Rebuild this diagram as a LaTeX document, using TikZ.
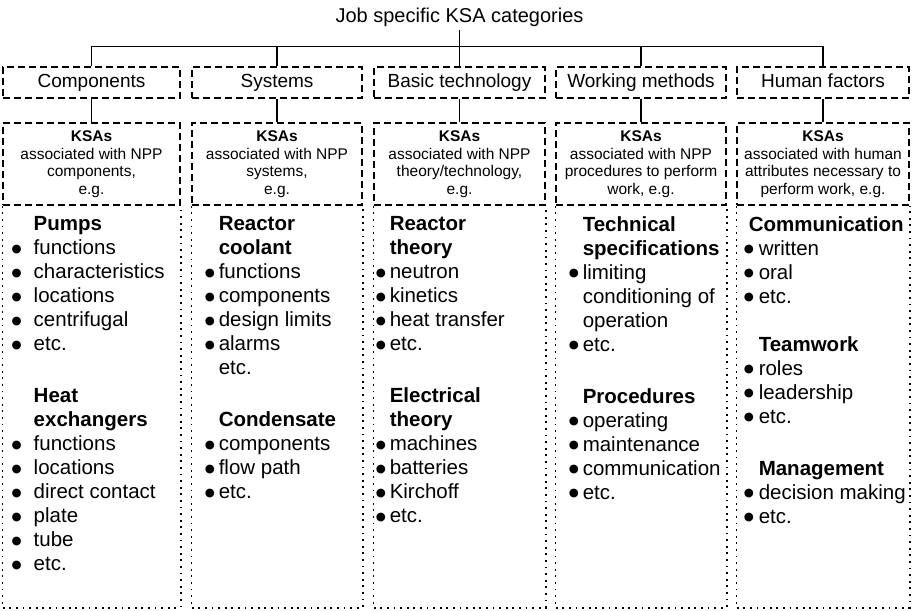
\documentclass[tikz,border=0pt]{standalone}
\usepackage{fontspec}
\setmainfont{Liberation Sans}
\newfontfamily\symfont{DejaVu Sans}
\def\bgap{13pt}
\newcommand\bul{\makebox[\bgap][l]{\raisebox{2.8pt}{\fontsize{11.5}{12}\symfont ●}}}
\newcommand\ind{\hspace*{\bgap}}
\begin{document}
\begin{tikzpicture}[x=1pt, y=-1pt, line width=1.5pt,
  cat/.style={draw, dash pattern=on 7pt off 4pt, minimum height=31pt, inner sep=0pt, text height=14pt, text depth=4pt, font=\fontsize{19}{22}\selectfont},
  desc/.style={draw, dash pattern=on 7pt off 4pt, minimum height=82pt, inner sep=0pt, align=center, font=\fontsize{15.5}{17.5}\selectfont},
  items/.style={anchor=north west, align=left, inner sep=0pt, font=\fontsize{20.5}{24}\selectfont},
  dots/.style={dash pattern=on 1.8pt off 4.8pt}]
  \useasboundingbox (0,0) rectangle (914,611);
  \node[font=\fontsize{20}{24}\selectfont] (title) at (459.5,17) {Job specific KSA categories};
  \node[cat, minimum width=177pt] (cp) at (91.5,82.5) {Components};
  \node[cat, minimum width=170pt] (sy) at (277,82.5) {Systems};
  \node[cat, minimum width=171pt] (bt) at (459.5,82.5) {Basic technology};
  \node[cat, minimum width=170pt] (wm) at (641,82.5) {Working methods};
  \node[cat, minimum width=172pt] (hf) at (823,82.5) {Human factors};
  \node[desc, minimum width=177pt] (d-cp) at (91.5,164) {\textbf{KSAs}\\associated with NPP\\components,\\e.g.};
  \node[desc, minimum width=170pt] (d-sy) at (277,164) {\textbf{KSAs}\\associated with NPP\\systems,\\e.g.};
  \node[desc, minimum width=171pt] (d-bt) at (459.5,164) {\textbf{KSAs}\\associated with NPP\\theory/technology,\\e.g.};
  \node[desc, minimum width=170pt] (d-wm) at (641,164) {\textbf{KSAs}\\associated with NPP\\procedures to perform\\work, e.g.};
  \node[desc, minimum width=172pt] (d-hf) at (823,164) {\textbf{KSAs}\\associated with human\\attributes necessary to\\perform work, e.g.};
  \draw (title.south) -- (bt.north);
  \draw (cp.north) -- ++(0,-20) -| (hf.north);
  \foreach \c in {sy,wm}
    \draw (\c.north) -- ++(0,-20);
  \foreach \c in {cp,sy,bt,wm,hf}{
    \draw (\c.south) -- (d-\c.north);
    \draw[dots] (d-\c.south west) -- ++(0,402) -| (d-\c.south east);
  }
  \def\bgap{22pt}
  \node[items] (l-cp) at (11,216) {\ind\textbf{Pumps}\\\bul functions\\\bul characteristics\\\bul locations\\\bul centrifugal\\\bul etc.\\[28pt]
    \ind\textbf{Heat}\\\ind\textbf{exchangers}\\\bul functions\\\bul locations\\\bul direct contact\\\bul plate\\\bul tube\\\bul etc.};
  \def\bgap{14pt}
  \node[items] (l-sy) at (204,216) {\ind\textbf{Reactor}\\\ind\textbf{coolant}\\\bul functions\\\bul components\\\bul design limits\\\bul alarms\\\ind etc.\\[28pt]
    \ind\textbf{Condensate}\\\bul components\\\bul flow path\\\bul etc.};
  \node[items] (l-bt) at (375,216) {\ind\textbf{Reactor}\\\ind\textbf{theory}\\\bul neutron\\\bul kinetics\\\bul heat transfer\\\bul etc.\\[28pt]
    \ind\textbf{Electrical}\\\ind\textbf{theory}\\\bul machines\\\bul batteries\\\bul Kirchoff\\\bul etc.};
  \node[items] (l-wm) at (568,216) {\ind\textbf{Technical}\\\ind\textbf{specifications}\\\bul limiting\\\ind conditioning of\\\ind operation\\\bul etc.\\[28pt]
    \ind\textbf{Procedures}\\\bul operating\\\bul maintenance\\\bul communication\\\bul etc.};
  \def\bgap{15pt}
  \node[items] (l-hf) at (743,216) {\hspace*{5pt}\textbf{Communication}\\\bul written\\\bul oral\\\bul etc.\\[24pt]
    \ind\textbf{Teamwork}\\\bul roles\\\bul leadership\\\bul etc.\\[28pt]
    \ind\textbf{Management}\\\bul decision making\\\bul etc.};
\end{tikzpicture}
\end{document}
